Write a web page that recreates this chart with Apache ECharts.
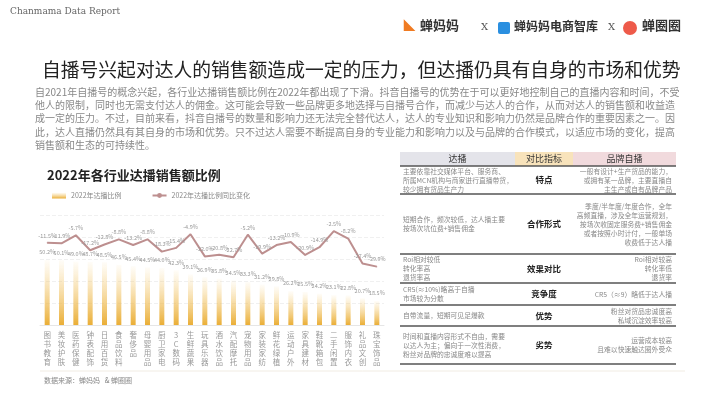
<!DOCTYPE html>
<html><head><meta charset="utf-8">
<script src="https://cdn.jsdelivr.net/npm/echarts@6/dist/echarts.min.js"></script>
<style>html,body{margin:0;padding:0;background:#fff}#c{width:720px;height:405px}</style>
</head><body><div id="c"></div>
<script>
const categories = ['图书教育','美妆护肤','医药保健','钟表配饰','日用百货','食品饮料','奢侈品','母婴用品','厨卫家电','3C数码','生鲜蔬果','玩具乐器','酒水饮品','汽配摩托','宠物用品','家装家纺','鲜花绿植','运动户外','家具建材','鞋靴箱包','二手闲置','服饰内衣','礼品文创','珠宝饰品'];
const shareValues = [50.2, 50.1, 49.0, 48.7, 48.5, 46.5, 45.4, 44.5, 44.0, 42.3, 39.1, 36.9, 35.8, 34.5, 33.3, 31.2, 29.8, 26.2, 25.5, 24.2, 23.1, 22.8, 20.7, 18.5];
const changeValues = [-11.5, -11.9, -5.7, -17.2, -12.8, -8.8, -13.2, -8.8, -18.3, -15.4, -4.9, -22.0, -20.8, -22.7, -5.2, -19.9, -13.2, -10.9, -20.9, -14.9, -2.5, -8.2, -27.4, -29.9];
const paragraphLines = [
 '自2021年自播号的概念兴起，各行业达播销售额比例在2022年都出现了下滑。抖音自播号的优势在于可以更好地控制自己的直播内容和时间，不受',
 '他人的限制，同时也无需支付达人的佣金。这可能会导致一些品牌更多地选择与自播号合作，而减少与达人的合作，从而对达人的销售额和收益造',
 '成一定的压力。不过，目前来看，抖音自播号的数量和影响力还无法完全替代达人，达人的专业知识和影响力仍然是品牌合作的重要因素之一。因',
 '此，达人直播仍然具有其自身的市场和优势。只不过达人需要不断提高自身的专业能力和影响力以及与品牌的合作模式，以适应市场的变化，提高',
 '销售额和生态的可持续性。'
];
const tableHeaders = ['达播','对比指标','品牌自播'];
const tableLeft = [
 '主要依靠社交媒体平台、服务商、\n所属MCN机构与商家进行直播带货，\n较少拥有货品生产力',
 '短期合作，频次较低，达人播主要\n按场次坑位费+销售佣金',
 'Roi相对较低\n转化率高\n退货率高',
 'CR5(≈10%)略高于自播\n市场较为分散',
 '自带流量，短期可见足爆款',
 '时间和直播内容形式不自由，需要\n以达人为主；偏向于一次性消费，\n粉丝对品牌的忠诚度难以提高'
];
const tableMid = ['特点','合作形式','效果对比','竞争度','优势','劣势'];
const tableRight = [
 '一般有设计+生产货品的能力，\n或拥有某一品牌，主要直播自\n主生产或自有品牌产品',
 '季度/半年度/年度合作，全年\n高频直播，涉及全年运营规划，\n按场次收固定服务费+销售佣金\n或者按照小时计付，一般单场\n收费低于达人播',
 'Roi相对较高\n转化率低\n退货率',
 'CR5（≈9）略低于达人播',
 '粉丝对货品忠诚度高\n私域沉淀效率较高',
 '运营成本较高\n且难以快速触达圈外受众'
];
const rowY = [166,194,254,283,305,326,364];

const g = [];
g.push({type:'text',left:10,top:7,style:{text:'Chanmama Data Report',fill:'#666',font:'9px "DejaVu Serif"'}});
g.push({type:'text',left:420,top:19,style:{text:'蝉妈妈',fill:'#333',font:'bold 13px "Noto Sans CJK SC"'}});
g.push({type:'text',left:404,top:18,style:{text:'◣',fill:'#f07b22',font:'bold 14px sans-serif'}});
g.push({type:'text',left:481,top:22,style:{text:'X',fill:'#555',font:'10px "DejaVu Serif"'}});
g.push({type:'rect',shape:{x:498,y:22,width:12,height:12,r:2},style:{fill:'#2a8fe0'}});
g.push({type:'text',left:514,top:20,style:{text:'蝉妈妈电商智库',fill:'#333',font:'bold 12px "Noto Sans CJK SC"'}});
g.push({type:'text',left:608,top:22,style:{text:'X',fill:'#555',font:'10px "DejaVu Serif"'}});
g.push({type:'circle',shape:{cx:630,cy:28,r:7},style:{fill:'#ee5a4a'}});
g.push({type:'text',left:642,top:19,style:{text:'蝉圈圈',fill:'#333',font:'bold 13px "Noto Sans CJK SC"'}});
g.push({type:'text',left:42,top:60,style:{text:'自播号兴起对达人的销售额造成一定的压力，但达播仍具有自身的市场和优势',fill:'#222',font:'18.8px "Noto Sans CJK SC"'}});
paragraphLines.forEach((t,i)=>g.push({type:'text',left:35,top:87+i*13.3,style:{text:t,fill:'#888',font:'10px "Noto Sans CJK SC"'}}));
g.push({type:'text',left:47,top:169,style:{text:'2022年各行业达播销售额比例',fill:'#222',font:'bold 13px "Noto Sans CJK SC"'}});
const cols=[[400,515],[515,573],[573,676]];
const hfill=['#e4e4ea','#f8e3bb','#f1dadd'];
cols.forEach((c,i)=>{
 g.push({type:'rect',shape:{x:c[0],y:152,width:c[1]-c[0],height:14},style:{fill:hfill[i]}});
 g.push({type:'text',x:(c[0]+c[1])/2,y:159,style:{text:tableHeaders[i],fill:'#333',font:'9px "Noto Sans CJK SC"',align:'center',verticalAlign:'middle'}});
});
for(let r=0;r<6;r++){
 const cy=(rowY[r]+rowY[r+1])/2;
 g.push({type:'text',x:403,y:cy,style:{text:tableLeft[r],fill:'#888',font:'6.8px "Noto Sans CJK SC"',lineHeight:9,verticalAlign:'middle'}});
 g.push({type:'text',x:544,y:cy,style:{text:tableMid[r],fill:'#222',font:'bold 8.5px "Noto Sans CJK SC"',align:'center',verticalAlign:'middle'}});
 g.push({type:'text',x:672,y:cy,style:{text:tableRight[r],fill:'#888',font:'6.8px "Noto Sans CJK SC"',lineHeight:9,align:'right',verticalAlign:'middle'}});
}
rowY.forEach(y=>g.push({type:'line',shape:{x1:400,y1:y,x2:676,y2:y},style:{stroke:'#555',lineWidth:1.3}}));
g.push({type:'line',shape:{x1:40,y1:371,x2:685,y2:371},style:{stroke:'#f1ece3',lineWidth:1}});
g.push({type:'text',left:44,top:377,style:{text:'数据来源：蝉妈妈   & 蝉圈圈',fill:'#888',font:'7px "Noto Sans CJK SC"'}});

const chart = echarts.init(document.getElementById('c'));
chart.setOption({
 animation:false,
 textStyle:{fontFamily:'"Noto Sans CJK SC"'},
 legend:{left:47,top:187,itemWidth:14,itemHeight:6,itemGap:30,textStyle:{fontSize:7,color:'#888'},
   data:[{name:'2022年达播比例',icon:'rect'},{name:'2022年达播比例同比变化'}]},
 grid:{left:40,right:336,top:215,bottom:80},
 xAxis:{type:'category',data:categories,axisLine:{show:true,lineStyle:{color:'#e6e6e6'}},axisTick:{show:false},
   axisLabel:{interval:0,fontSize:7.5,color:'#999',lineHeight:9,margin:6,formatter:v=>v.split('').join('\n')}},
 yAxis:[{type:'value',min:0,max:85,interval:17,show:true,axisLabel:{show:false},axisLine:{show:false},axisTick:{show:false},
   splitLine:{lineStyle:{color:'#f0f0f0',type:'dashed'}}},
  {type:'value',min:-75,max:10,show:false,splitLine:{show:false}}],
 series:[
  {name:'2022年达播比例',type:'bar',data:shareValues,barWidth:5,
   itemStyle:{color:new echarts.graphic.LinearGradient(0,0,0,1,[{offset:0,color:'rgba(245,205,120,0.05)'},{offset:1,color:'#eaae36'}])},
   label:{show:true,position:'top',fontSize:5.5,color:'#999',formatter:p=>p.value.toFixed(1)+'%'}},
  {name:'2022年达播比例同比变化',type:'line',yAxisIndex:1,data:changeValues,symbol:'circle',symbolSize:1,showSymbol:true,
   lineStyle:{color:'#bd8f8f',width:2},itemStyle:{color:'#bd8f8f'},labelLayout:{hideOverlap:false},
   label:{show:true,position:'top',distance:4,fontSize:5.5,color:'#999',formatter:p=>p.value.toFixed(1)+'%'}}
 ],
 graphic:g
});
</script></body></html>
